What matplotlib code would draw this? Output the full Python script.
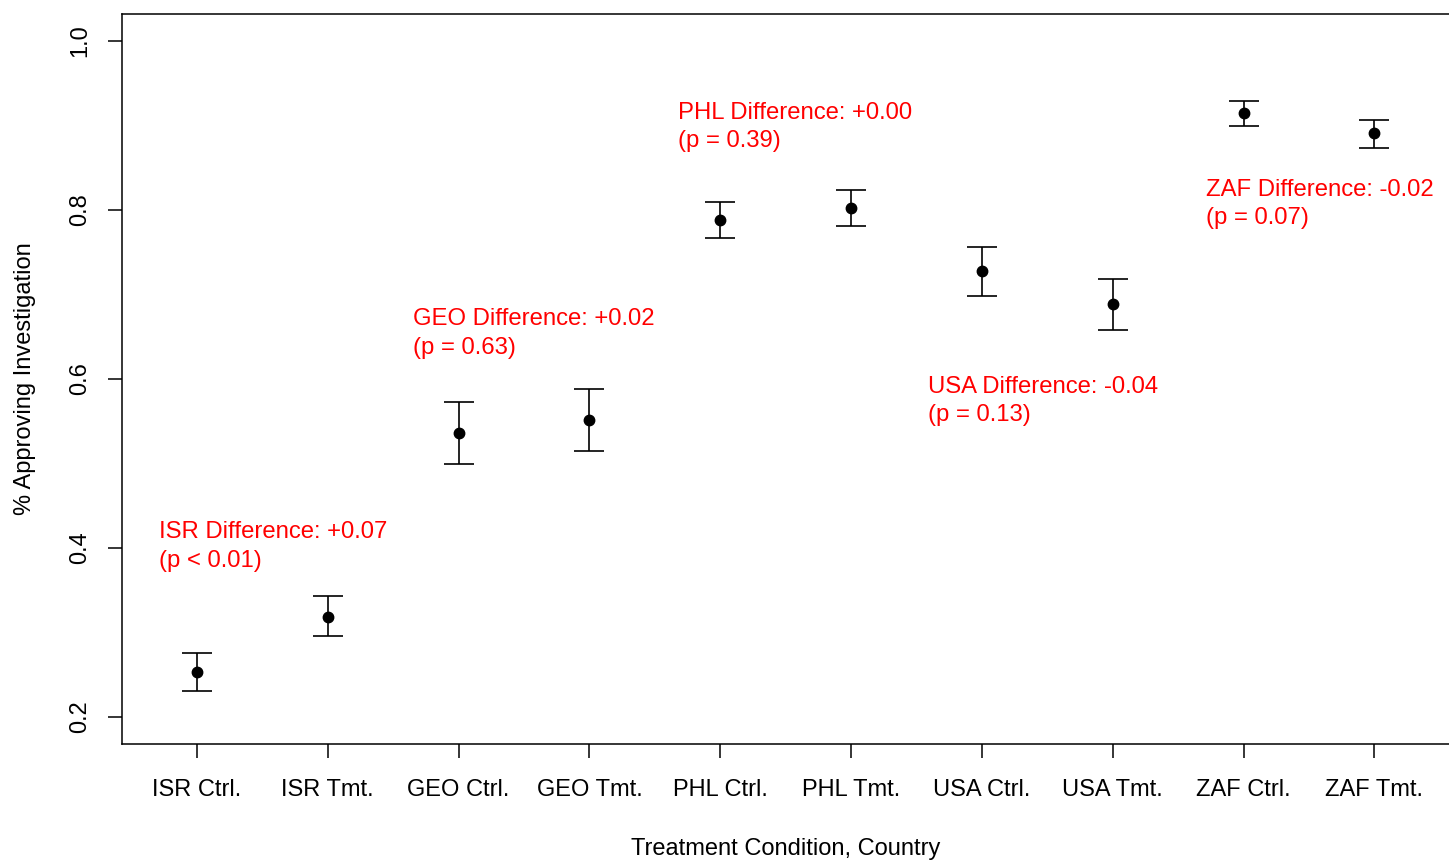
import numpy as np
import matplotlib
matplotlib.use('Agg')
import matplotlib.pyplot as plt

matplotlib.rcParams['font.family'] = ['Liberation Sans', 'DejaVu Sans']
matplotlib.rcParams['font.size'] = 17

# condition labels along the x axis
conditions = ['ISR Ctrl.', 'ISR Tmt.', 'GEO Ctrl.', 'GEO Tmt.', 'PHL Ctrl.',
              'PHL Tmt.', 'USA Ctrl.', 'USA Tmt.', 'ZAF Ctrl.', 'ZAF Tmt.']
# share approving investigation, with lower / upper interval bounds
means = [0.253, 0.318, 0.536, 0.551, 0.788, 0.802, 0.728, 0.689, 0.915, 0.891]
lower = [0.231, 0.296, 0.499, 0.515, 0.767, 0.781, 0.698, 0.658, 0.899, 0.873]
upper = [0.276, 0.343, 0.573, 0.588, 0.809, 0.824, 0.756, 0.718, 0.929, 0.907]

# difference annotations: left x, block centre y (data units) and text
note_x = [0.71, 2.65, 4.68, 6.59, 8.71]
note_y = [0.402, 0.654, 0.898, 0.574, 0.807]
note_text = ['ISR Difference: +0.07\n(p < 0.01)',
             'GEO Difference: +0.02\n(p = 0.63)',
             'PHL Difference: +0.00\n(p = 0.39)',
             'USA Difference: -0.04\n(p = 0.13)',
             'ZAF Difference: -0.02\n(p = 0.07)']

x = np.arange(1, len(conditions) + 1)
means = np.array(means)
yerr = np.array([means - np.array(lower), np.array(upper) - means])

fig = plt.figure(figsize=(14.49, 8.6), dpi=100)
ax = fig.add_axes([122 / 1449, 116 / 860, 1 - 122 / 1449, (744 - 14) / 860])

ax.errorbar(x, means, yerr=yerr, fmt='o', color='black', markersize=7.5,
            elinewidth=1.2, capsize=11, capthick=1.2)

for tx, ty, t in zip(note_x, note_y, note_text):
    ax.text(tx, ty, t, color='red', ha='left', va='center', fontsize=17.2,
            linespacing=1.38)

ax.set_xlim(0.427, 10.57)
ax.set_ylim(0.168, 1.032)
ax.set_xticks(x)
ax.set_xticklabels(conditions)
ax.set_yticks([0.2, 0.4, 0.6, 0.8, 1.0])
ax.set_yticklabels(['0.2', '0.4', '0.6', '0.8', '1.0'], rotation=90, va='center')
ax.tick_params(axis='both', length=10, width=1.1)
ax.tick_params(axis='x', pad=15)
ax.tick_params(axis='y', pad=12)

ax.spines['right'].set_visible(False)
for s in ['left', 'bottom', 'top']:
    ax.spines[s].set_linewidth(1.1)

ax.set_xlabel('Treatment Condition, Country', labelpad=27)
ax.set_ylabel('% Approving Investigation', labelpad=24)

fig.savefig('out.png', dpi=100)
